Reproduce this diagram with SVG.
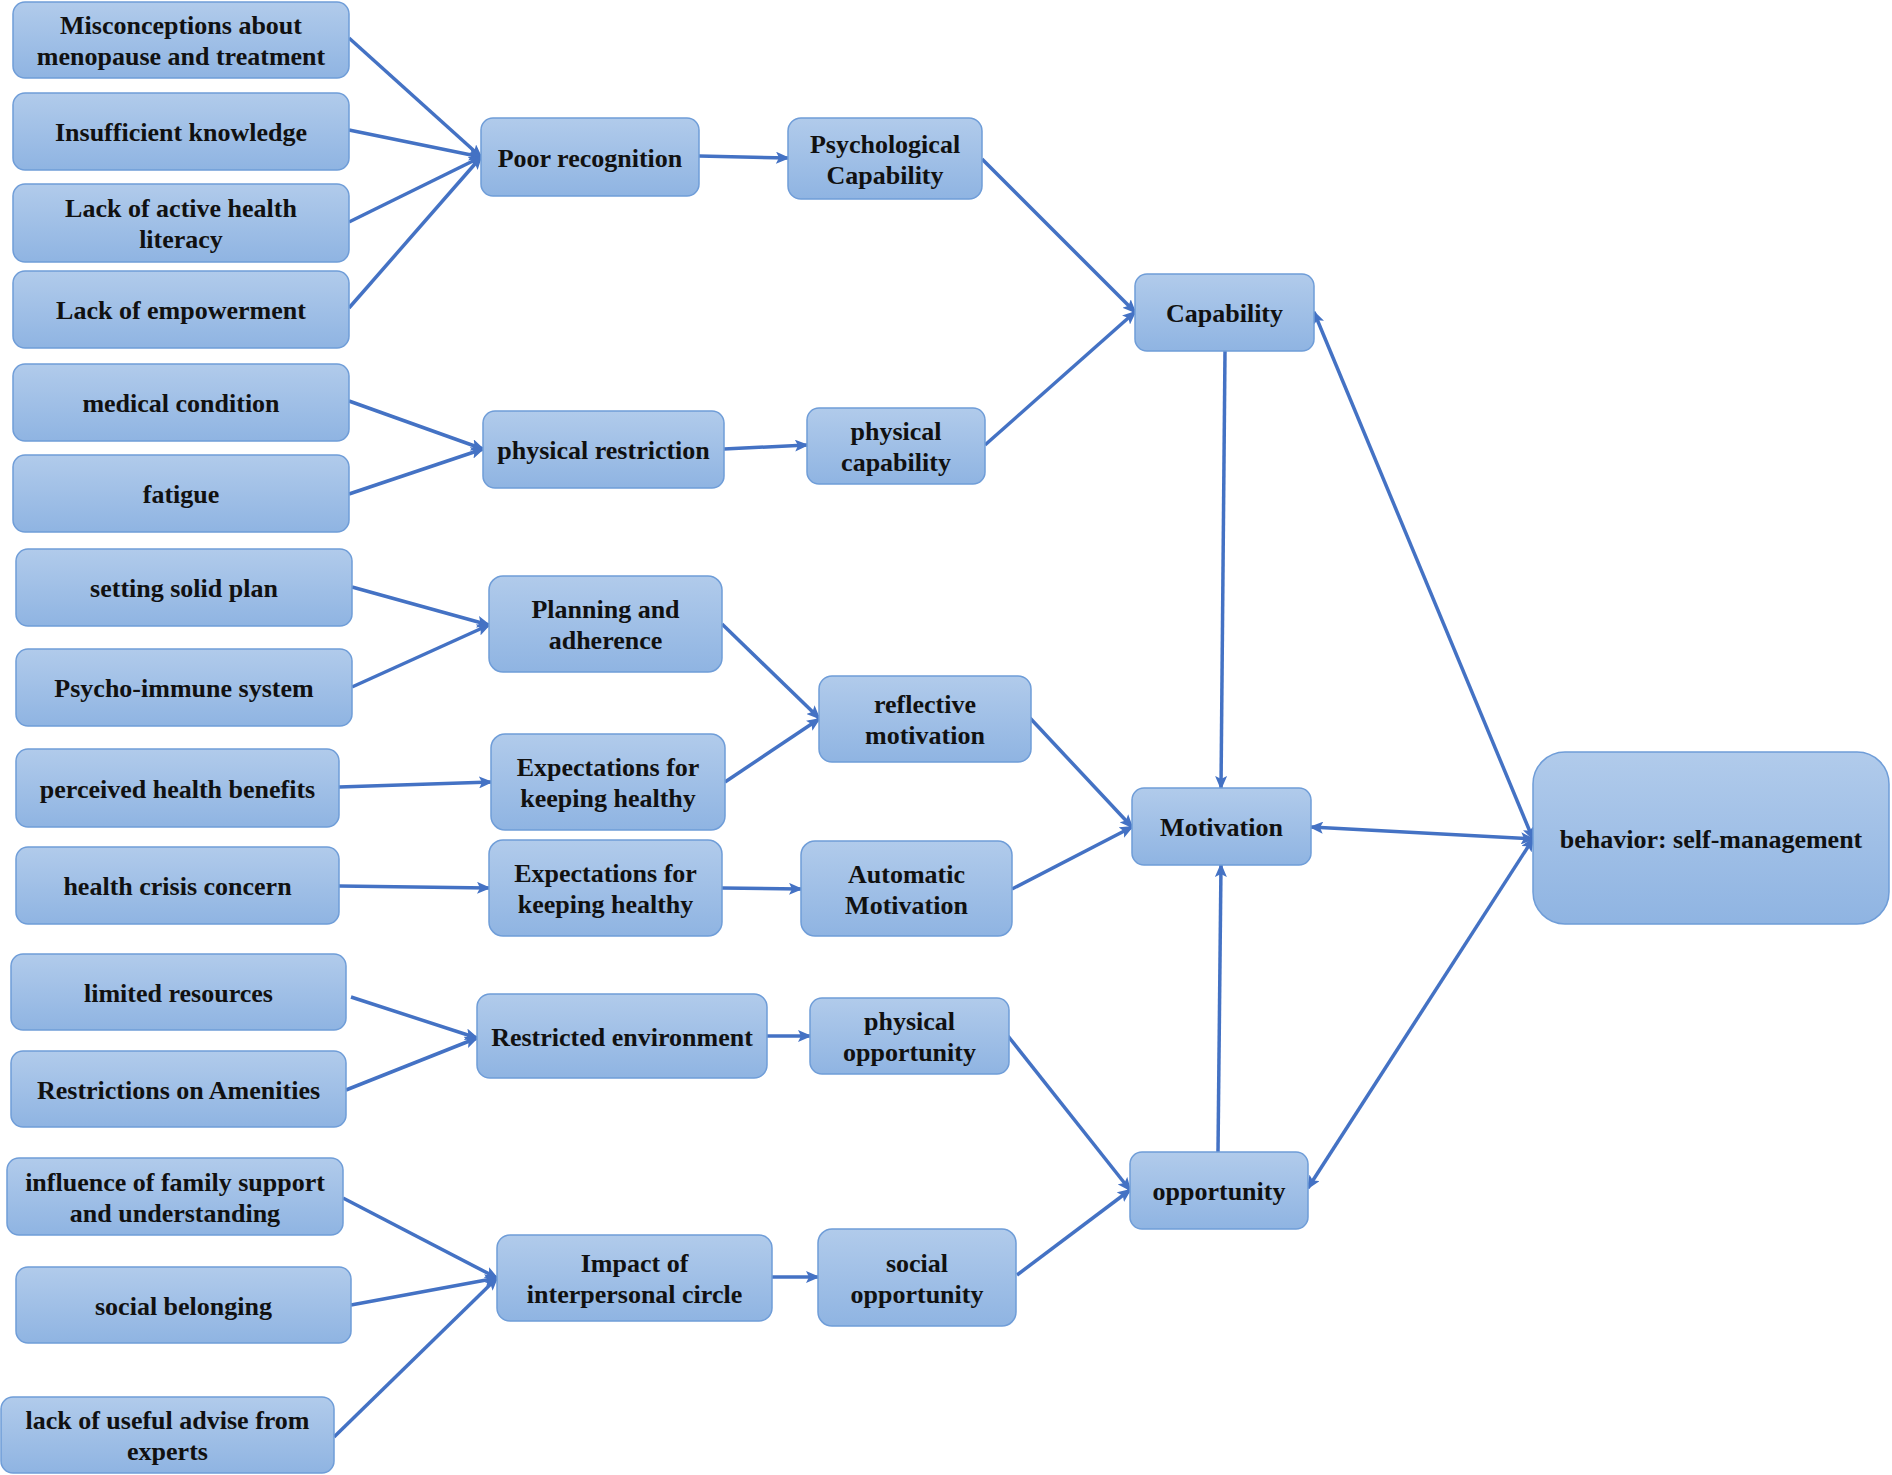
<svg xmlns="http://www.w3.org/2000/svg" width="1892" height="1475" viewBox="0 0 1892 1475">
<defs>
<linearGradient id="g" x1="0" y1="0" x2="0" y2="1">
<stop offset="0" stop-color="#b1cbeb"/>
<stop offset="1" stop-color="#8fb4e2"/>
</linearGradient>
<marker id="ah" viewBox="0 0 14 12" refX="12" refY="6" markerWidth="14" markerHeight="12" orient="auto-start-reverse" markerUnits="userSpaceOnUse">
<path d="M0,0 L14,6 L0,12 L3,6 z" fill="#4472c4"/>
</marker>
<style>
.n rect{fill:url(#g);stroke:#6f9dd8;stroke-width:1.5}
.n text{font-family:"Liberation Serif","Times New Roman",serif;font-weight:bold;font-size:26px;fill:#111111;text-anchor:middle}
.c line{stroke:#4472c4;stroke-width:3.5;marker-end:url(#ah)}
.c line.bi{marker-start:url(#ah)}
</style>
</defs>
<rect width="1892" height="1475" fill="#ffffff"/>
<g class="c" id="connectors">
<line x1="349" y1="38" x2="481" y2="157"/>
<line x1="349" y1="130" x2="481" y2="157"/>
<line x1="349" y1="222" x2="481" y2="157"/>
<line x1="349" y1="308" x2="481" y2="157"/>
<line x1="349" y1="401" x2="483" y2="449"/>
<line x1="349" y1="494" x2="483" y2="449"/>
<line x1="699" y1="156" x2="788" y2="158"/>
<line x1="724" y1="449" x2="807" y2="445"/>
<line x1="982" y1="159" x2="1135" y2="312"/>
<line x1="985" y1="445" x2="1135" y2="312"/>
<line x1="1225" y1="351" x2="1221" y2="788"/>
<line x1="1218" y1="1152" x2="1221" y2="865"/>
<line class="bi" x1="1314" y1="312" x2="1533" y2="839"/>
<line class="bi" x1="1311" y1="827" x2="1533" y2="839"/>
<line class="bi" x1="1308" y1="1188" x2="1533" y2="839"/>
<line x1="352" y1="587" x2="489" y2="625"/>
<line x1="352" y1="687" x2="489" y2="625"/>
<line x1="339" y1="787" x2="491" y2="782"/>
<line x1="339" y1="886" x2="489" y2="888"/>
<line x1="722" y1="624" x2="819" y2="718"/>
<line x1="725" y1="782" x2="819" y2="719"/>
<line x1="722" y1="888" x2="801" y2="889"/>
<line x1="1030" y1="718" x2="1132" y2="827"/>
<line x1="1012" y1="889" x2="1132" y2="827"/>
<line x1="351" y1="997" x2="477" y2="1038"/>
<line x1="346" y1="1090" x2="477" y2="1038"/>
<line x1="767" y1="1036" x2="810" y2="1036"/>
<line x1="343" y1="1198" x2="497" y2="1278"/>
<line x1="351" y1="1305" x2="497" y2="1278"/>
<line x1="334" y1="1437" x2="497" y2="1278"/>
<line x1="772" y1="1277" x2="818" y2="1277"/>
<line x1="1008" y1="1036" x2="1130" y2="1190"/>
<line x1="1017" y1="1275" x2="1130" y2="1190"/>
</g>
<g class="n" id="n-misconceptions"><rect x="13" y="2" width="336" height="76" rx="12"/><text x="181" y="34">Misconceptions about</text><text x="181" y="65">menopause and treatment</text></g>
<g class="n" id="n-insufficient"><rect x="13" y="93" width="336" height="77" rx="12"/><text x="181" y="141">Insufficient knowledge</text></g>
<g class="n" id="n-literacy"><rect x="13" y="184" width="336" height="78" rx="12"/><text x="181" y="217">Lack of active health</text><text x="181" y="248">literacy</text></g>
<g class="n" id="n-empowerment"><rect x="13" y="271" width="336" height="77" rx="12"/><text x="181" y="319">Lack of empowerment</text></g>
<g class="n" id="n-medical"><rect x="13" y="364" width="336" height="77" rx="12"/><text x="181" y="412">medical condition</text></g>
<g class="n" id="n-fatigue"><rect x="13" y="455" width="336" height="77" rx="12"/><text x="181" y="503">fatigue</text></g>
<g class="n" id="n-plan"><rect x="16" y="549" width="336" height="77" rx="12"/><text x="184" y="597">setting solid plan</text></g>
<g class="n" id="n-psycho"><rect x="16" y="649" width="336" height="77" rx="12"/><text x="184" y="697">Psycho-immune system</text></g>
<g class="n" id="n-perceived"><rect x="16" y="749" width="323" height="78" rx="12"/><text x="177.5" y="798">perceived health benefits</text></g>
<g class="n" id="n-crisis"><rect x="16" y="847" width="323" height="77" rx="12"/><text x="177.5" y="895">health crisis concern</text></g>
<g class="n" id="n-limited"><rect x="11" y="954" width="335" height="76" rx="12"/><text x="178.5" y="1002">limited resources</text></g>
<g class="n" id="n-amenities"><rect x="11" y="1051" width="335" height="76" rx="12"/><text x="178.5" y="1099">Restrictions on Amenities</text></g>
<g class="n" id="n-family"><rect x="7" y="1158" width="336" height="77" rx="12"/><text x="175" y="1191">influence of family support</text><text x="175" y="1222">and understanding</text></g>
<g class="n" id="n-belonging"><rect x="16" y="1267" width="335" height="76" rx="12"/><text x="183.5" y="1315">social belonging</text></g>
<g class="n" id="n-advise"><rect x="1" y="1397" width="333" height="76" rx="12"/><text x="167.5" y="1429">lack of useful advise from</text><text x="167.5" y="1460">experts</text></g>
<g class="n" id="n-poor"><rect x="481" y="118" width="218" height="78" rx="12"/><text x="590" y="167">Poor recognition</text></g>
<g class="n" id="n-restriction"><rect x="483" y="411" width="241" height="77" rx="12"/><text x="603.5" y="459">physical restriction</text></g>
<g class="n" id="n-planning"><rect x="489" y="576" width="233" height="96" rx="14"/><text x="605.5" y="618">Planning and</text><text x="605.5" y="649">adherence</text></g>
<g class="n" id="n-expect1"><rect x="491" y="734" width="234" height="96" rx="14"/><text x="608" y="776">Expectations for</text><text x="608" y="807">keeping healthy</text></g>
<g class="n" id="n-expect2"><rect x="489" y="840" width="233" height="96" rx="14"/><text x="605.5" y="882">Expectations for</text><text x="605.5" y="913">keeping healthy</text></g>
<g class="n" id="n-environment"><rect x="477" y="994" width="290" height="84" rx="13"/><text x="622" y="1046">Restricted environment</text></g>
<g class="n" id="n-interpersonal"><rect x="497" y="1235" width="275" height="86" rx="13"/><text x="634.5" y="1272">Impact of</text><text x="634.5" y="1303">interpersonal circle</text></g>
<g class="n" id="n-psychcap"><rect x="788" y="118" width="194" height="81" rx="13"/><text x="885" y="153">Psychological</text><text x="885" y="184">Capability</text></g>
<g class="n" id="n-physcap"><rect x="807" y="408" width="178" height="76" rx="12"/><text x="896" y="440">physical</text><text x="896" y="471">capability</text></g>
<g class="n" id="n-reflective"><rect x="819" y="676" width="212" height="86" rx="13"/><text x="925" y="713">reflective</text><text x="925" y="744">motivation</text></g>
<g class="n" id="n-automatic"><rect x="801" y="841" width="211" height="95" rx="14"/><text x="906.5" y="883">Automatic</text><text x="906.5" y="914">Motivation</text></g>
<g class="n" id="n-physopp"><rect x="810" y="998" width="199" height="76" rx="12"/><text x="909.5" y="1030">physical</text><text x="909.5" y="1061">opportunity</text></g>
<g class="n" id="n-socopp"><rect x="818" y="1229" width="198" height="97" rx="14"/><text x="917" y="1272">social</text><text x="917" y="1303">opportunity</text></g>
<g class="n" id="n-capability"><rect x="1135" y="274" width="179" height="77" rx="12"/><text x="1224.5" y="322">Capability</text></g>
<g class="n" id="n-motivation"><rect x="1132" y="788" width="179" height="77" rx="12"/><text x="1221.5" y="836">Motivation</text></g>
<g class="n" id="n-opportunity"><rect x="1130" y="1152" width="178" height="77" rx="12"/><text x="1219" y="1200">opportunity</text></g>
<g class="n" id="n-behavior"><rect x="1533" y="752" width="356" height="172" rx="32"/><text x="1711" y="848">behavior: self-management</text></g>
</svg>
